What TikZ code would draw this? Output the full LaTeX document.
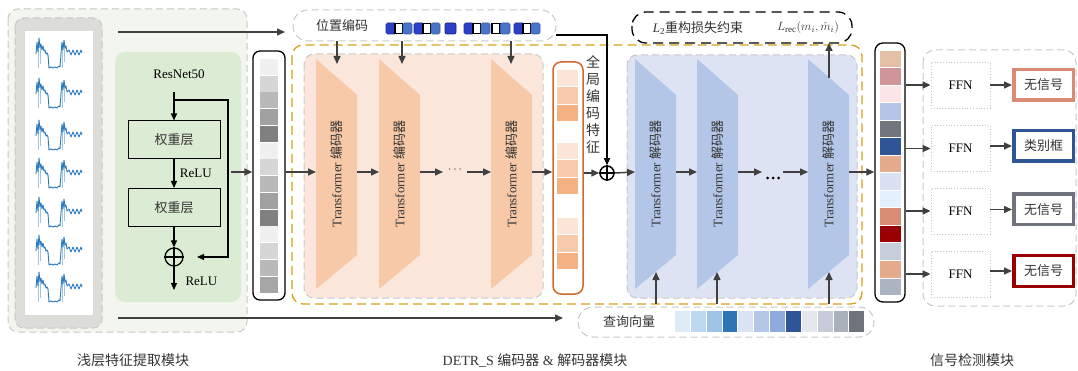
\documentclass[tikz,border=0pt]{standalone}
\usepackage{fontspec}
\setmainfont{Liberation Serif}
\newfontfamily\cjk{Noto Sans CJK SC}
\usetikzlibrary{arrows.meta}
\newcommand{\zh}[1]{{\cjk #1}}
\definecolor{lgreenbg}{HTML}{F2F6EF}
\definecolor{dgrey}{HTML}{C8C8C8}
\definecolor{imgbg}{HTML}{DCDCD8}
\definecolor{resgreen}{HTML}{DCEBD3}
\definecolor{encbg}{HTML}{FAE6DA}
\definecolor{enctrap}{HTML}{F7C9A8}
\definecolor{decbg}{HTML}{DDE3F3}
\definecolor{dectrap}{HTML}{B4C6E7}
\definecolor{gold}{HTML}{D4A21A}
\definecolor{orangeb}{HTML}{D06A2C}
\definecolor{arrowgrey}{HTML}{404040}
\definecolor{txt}{HTML}{333333}
\definecolor{sigblue}{HTML}{2C7BBF}
\definecolor{pdark}{HTML}{2B3FC8}
\definecolor{pmid}{HTML}{4A74C9}
\definecolor{outA}{HTML}{D98B73}
\definecolor{outB}{HTML}{2F5597}
\definecolor{outC}{HTML}{6F747C}
\definecolor{outD}{HTML}{990000}
\newcommand{\trapz}[4]{%
  \fill[#3] (#2,59) -- (#2+41,95) -- (#2+41,255) -- (#2,289) -- cycle;
  \node[rotate=90,text=txt] (#1) at (#2+20.5,174) {Transformer \zh{#4}};
  \coordinate (#1-w) at (#2,172);
  \coordinate (#1-e) at (#2+41,172);
}
\newcommand{\sig}[2]{%
  \begin{scope}[shift={(#1,#2)}]
  \draw[sigblue!45,line width=0.5pt] (2,12) -- (2,30) (4,10) -- (4,26) (26,6) -- (26,30) (28,4) -- (28,24);
  \draw[sigblue,line width=0.9pt,line join=round] plot coordinates {(0,16) (1,4) (2,14) (3,0) (4,10) (5,6) (6,12) (7,8) (8,13) (9,12) (10,16) (11,15) (12,17) (13,30) (15,29) (17,30) (19,29) (21,30) (23,28) (24,29) (25,16) (26,4) (27,12) (28,2) (29,10) (30,8) (31,14) (33,12) (35,17) (37,12) (39,17) (41,12) (43,17) (45,12) (46,15)};
  \end{scope}
}
\begin{document}
\begin{tikzpicture}[x=1pt,y=-1pt,font=\fontsize{13}{15}\selectfont,
  arr/.style={draw=arrowgrey,line width=1.5pt,-{Triangle[length=8pt,width=7pt]}},
  barr/.style={draw=black,line width=1.2pt,-{Triangle[length=7pt,width=6pt]}},
  wbox/.style={draw=black,line width=1pt,fill=resgreen,minimum width=92pt,minimum height=38pt,inner sep=0pt,text=txt},
  ffnbox/.style={draw=dgrey,dotted,line width=0.8pt,minimum width=59pt,minimum height=46pt,inner sep=0pt},
  outbox/.style={line width=3.5pt,fill=white,minimum width=59.5pt,minimum height=30.5pt,inner sep=0pt,text=txt},
  gdash/.style={draw=dgrey,line width=1pt,dash pattern=on 7pt off 4pt},
]
\useasboundingbox (0,0) rectangle (1078,371);

% ===== shallow feature module
\draw[gdash,fill=lgreenbg,rounded corners=10pt] (8,9) rectangle (247,332);
\draw[gdash,fill=imgbg,rounded corners=9pt] (15,18) rectangle (102,328);
\fill[white] (25,31) rectangle (93,315);
\foreach \yy in {38,78,120,158,197,235,272} {\sig{36}{\yy}}
\draw[fill=resgreen,draw=none,rounded corners=10pt] (115,52) rectangle (241,302);
\node[text=black] (resnet) at (179,74) {ResNet50};
\node[wbox] (wl1) at (174,140) {\zh{权重层}};
\node[wbox] (wl2) at (174,207.5) {\zh{权重层}};
\node[circle,draw=black,line width=1.3pt,minimum size=18pt,inner sep=0pt] (addr) at (174,257) {};
\draw[black,line width=1.3pt] (addr.north) -- (addr.south) (addr.west) -- (addr.east);
\coordinate (rtop) at (174,92);
\coordinate (rbr) at (174,100);
\coordinate (rskip) at (197,257);
\coordinate (rout) at (174,290);
\draw[barr] (rtop) -- (wl1.north);
\draw[barr] (rbr) -- (228,100) -- (228,257) -- (rskip);
\draw[barr] (wl1.south) -- node[right,xshift=2pt] (relu1) {ReLU} (wl2.north);
\draw[barr] (wl2.south) -- (addr.north);
\draw[barr] (addr.south) -- (rout);
\node[anchor=west] (relu2) at (182,281) {ReLU};

% top and bottom long arrows
\coordinate (topS) at (118,32);
\coordinate (botS) at (118,318);

% ===== feature column
\node[draw=black,line width=1.3pt,rounded corners=7pt,minimum width=32pt,minimum height=249pt,inner sep=0pt] (fcol) at (269,175.5) {};
\foreach \c [count=\i from 0] in {F0F0F0,D6D6D6,B9B9B9,A1A1A1,808080,F0F0F0,D6D6D6,B9B9B9,A1A1A1,808080,F0F0F0,D6D6D6,B9B9B9,A6A6A6} {
  \definecolor{tmpc}{HTML}{\c}
  \fill[tmpc] (260,59+\i*16.75) rectangle (278,59+\i*16.75+15.8);
}
\coordinate (resout) at (231,172);
\draw[arr] (resout) -- (fcol.west |- resout);

% ===== encoder
\draw[draw=gold,line width=1.3pt,dash pattern=on 9pt off 5pt,rounded corners=11pt] (292,45) rectangle (862,304);
\draw[gdash,fill=encbg,rounded corners=10pt] (304,54) rectangle (543,298);
\trapz{e1}{316}{enctrap}{编码器}
\trapz{e2}{379}{enctrap}{编码器}
\trapz{e3}{491}{enctrap}{编码器}
\draw[arr] (fcol.east |- e1-w) -- (e1-w);
\draw[arr] (e1-e) -- (e2-w);
\coordinate (ed1) at (443,172);
\coordinate (ed2) at (467,172);
\draw[arr] (e2-e) -- (ed1);
\node[text=txt] (edots) at (455,170) {$\cdots$};
\draw[arr] (ed2) -- (e3-w);

% position encoding
\draw[gdash,fill=white,rounded corners=15pt] (293,10) rectangle (556,41);
\node[text=txt] (pos) at (342,26) {\zh{位置编码}};
\newcommand{\pgrp}[1]{%
  \draw[pdark!70!black,fill=pdark,rounded corners=1.5pt,line width=0.6pt] (#1,23) rectangle (#1+10,34);
  \draw[black,fill=white,line width=1.5pt] (#1+9,23.5) rectangle (#1+16.5,33.5);
  \draw[pmid!80!black,fill=pmid,rounded corners=1.5pt,line width=0.6pt] (#1+17,23) rectangle (#1+26,34);
}
\pgrp{386}
\pgrp{414}
\draw[pdark!60!black,fill=pdark,rounded corners=2pt,line width=0.8pt] (445,23) rectangle (456,34);
\pgrp{464}
\draw[black,fill=white,line width=1.5pt] (492,23.5) rectangle (500,33.5);
\draw[pmid!80!black,fill=pmid,rounded corners=1.5pt,line width=0.6pt] (500.5,23) rectangle (510,34);
\pgrp{514}
\foreach \xx/\nm in {337/pa1,402/pa2,511/pa3} {
  \coordinate (\nm) at (\xx,41);
  \draw[arr] (\nm) -- (\xx,64);
}

% global feature column
\node[draw=orangeb,line width=1.5pt,rounded corners=8pt,minimum width=30pt,minimum height=232pt,inner sep=0pt] (gcol) at (568,178) {};
\foreach \yy in {70,143,218} {
  \foreach \c [count=\i from 0] in {FBE5D6,F8CBAD,F4B183} {
    \definecolor{tmpc}{HTML}{\c}
    \fill[tmpc] (557,\yy+\i*17.3) rectangle (578,\yy+\i*17.3+16.3);
  }
}
\draw[arr] (e3-e) -- (gcol.west |- e3-e);
\node[text=txt,align=center,font=\fontsize{14}{17}\selectfont\cjk] (gtext) at (593,105) {全\\局\\编\\码\\特\\征};
\node[circle,draw=black,line width=1.5pt,minimum size=14pt,inner sep=0pt] (gadd) at (607,173) {};
\draw[black,line width=1.5pt] (gadd.north) -- (gadd.south) (gadd.west) -- (gadd.east);
\coordinate (posR) at (556,35);
\draw[barr] (posR) -- (607,35) -- (gadd.north);
\draw[arr] (gcol.east |- gadd) -- (gadd.west);

% ===== decoder
\draw[gdash,fill=decbg,rounded corners=10pt] (627,55) rectangle (857,298);
\trapz{d1}{635}{dectrap}{解码器}
\trapz{d2}{697}{dectrap}{解码器}
\trapz{d3}{808}{dectrap}{解码器}
\draw[arr] (gadd.east) -- (d1-w);
\draw[arr] (d1-e) -- (d2-w);
\coordinate (dd1) at (762,172);
\coordinate (dd2) at (783,172);
\draw[arr] (d2-e) -- (dd1);
\foreach \xx in {767.5,773,778.5} {\fill[black] (\xx,178) circle (1.5pt);}
\draw[arr] (dd2) -- (d3-w);

% L2 box
\draw[draw=black,line width=1.3pt,dash pattern=on 10pt off 6pt,rounded corners=14pt] (632,12) rectangle (852,43);
\node[text=txt] (l2) at (698,28) {\textit{L}\textsubscript{2}\zh{重构损失约束}};
\node[text=txt] (lrec) at (808,28) {$L_{\mathrm{rec}}(m_i,\hat{m}_i)$};
\coordinate (d3top) at (829,78);
\draw[arr] (d3top) -- (829,43);

% query box
\draw[gdash,fill=white,rounded corners=15pt] (578,307) rectangle (874,337);
\node[text=txt] (query) at (629,322) {\zh{查询向量}};
\foreach \c [count=\i from 0] in {DEEBF7,BDD7EE,9DC3E6,2E75B6,DAE3F3,B4C7E7,8FAADC,2F5597,E4E7EC,C5CBD8,AAB1BD,6F747C} {
  \definecolor{tmpc}{HTML}{\c}
  \fill[tmpc] (675+\i*15.85,311) rectangle (675+\i*15.85+14.85,332);
}
\foreach \xx/\nm in {656/qa1,717/qa2,829/qa3} {
  \coordinate (\nm) at (\xx,304);
  \draw[arr] (\nm) -- (\xx,272);
}
\coordinate (queryarr) at (563,318);
\draw[arr] (botS) -- (queryarr);
\draw[arr] (topS) -- (285,32);

% ===== final column
\node[draw=black,line width=1.3pt,rounded corners=8pt,minimum width=30pt,minimum height=259pt,inner sep=0pt] (ocol) at (890,172.5) {};
\foreach \c [count=\i from 0] in {E3BFA5,CF9598,FDE4E6,B4C5E6,70757E,2F5597,E6AB8C,DAE1F2,E4F0FD,D88A72,990000,C6CDDB,E5A98B,ABB4C0} {
  \definecolor{tmpc}{HTML}{\c}
  \fill[tmpc] (880,51+\i*17.5) rectangle (901,51+\i*17.5+16.5);
}
\draw[arr] (d3-e) -- (ocol.west |- d3-e);

% ===== detection module
\draw[gdash,rounded corners=12pt] (923,50) rectangle (1076,306);
\node[ffnbox] (f1) at (960.5,85) {FFN};
\node[ffnbox] (f2) at (960.5,148.5) {FFN};
\node[ffnbox] (f3) at (960.5,211) {FFN};
\node[ffnbox] (f4) at (960.5,274) {FFN};
\node[outbox,draw=outA] (o1) at (1043.5,85) {\zh{无信号}};
\node[outbox,draw=outB] (o2) at (1043.5,146) {\zh{类别框}};
\node[outbox,draw=outC] (o3) at (1043.5,209.5) {\zh{无信号}};
\node[outbox,draw=outD] (o4) at (1043.5,271) {\zh{无信号}};
\foreach \i in {1,2,3,4} {
  \draw[arr] (ocol.east |- f\i) -- (f\i.west);
  \draw[arr] (f\i.east |- o\i) -- (o\i.west);
}

% ===== bottom labels
\node[text=txt,font=\fontsize{14}{16}\selectfont] (lab1) at (133,360) {\zh{浅层特征提取模块}};
\node[text=txt,font=\fontsize{14}{16}\selectfont] (lab2) at (535,360) {DETR\_S \zh{编码器} \& \zh{解码器模块}};
\node[text=txt,font=\fontsize{14}{16}\selectfont] (lab3) at (972,360) {\zh{信号检测模块}};
\end{tikzpicture}
\end{document}
